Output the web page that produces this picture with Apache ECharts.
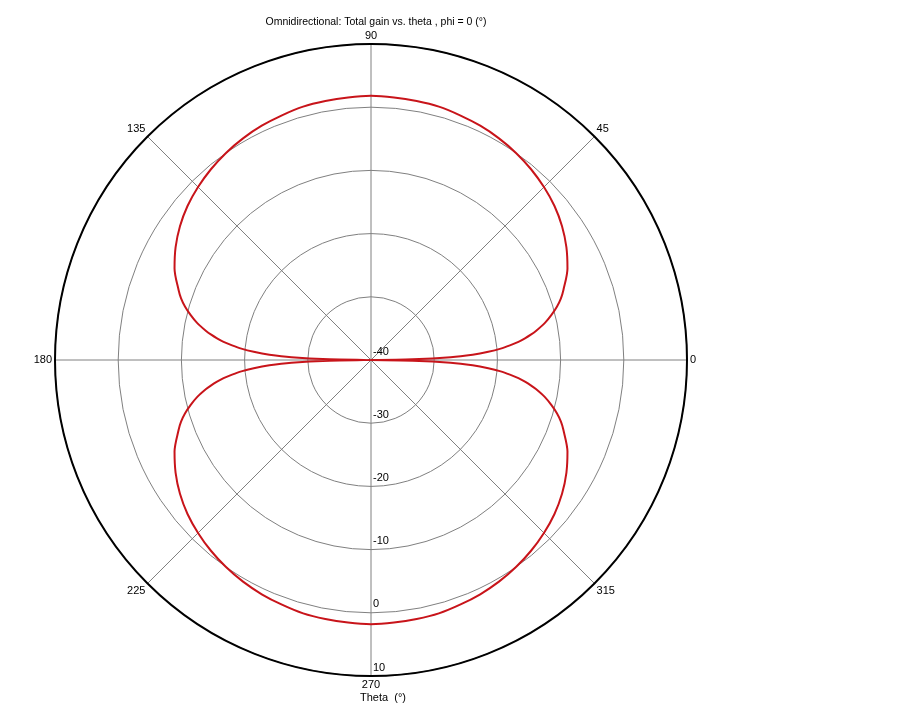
<!DOCTYPE html>
<html>
<head>
<meta charset="utf-8">
<script src="https://cdn.jsdelivr.net/npm/echarts@6/dist/echarts.min.js"></script>
<style>
html,body{margin:0;padding:0;background:#fff;}
#chart{width:910px;height:709px;}
</style>
</head>
<body>
<div id="chart"></div>
<script>
// Theta (degrees) and total gain (dB)
var thetaDeg = [
  0,1,2,3,4,5,6,7,8,9,10,12,14,16,18,20,25,30,35,40,45,50,55,60,65,70,75,80,85,
  90,95,100,105,110,115,120,125,130,135,140,145,150,155,160,162,164,166,168,170,171,172,173,174,175,176,177,178,179,
  180,181,182,183,184,185,186,187,188,189,190,192,194,196,198,200,205,210,215,220,225,230,235,240,245,250,255,260,265,
  270,275,280,285,290,295,300,305,310,315,320,325,330,335,340,342,344,346,348,350,351,352,353,354,355,356,357,358,359,360
];
var gainDb = [
  -40,-33.4,-27.4,-23.9,-21.4,-19.4,-17.9,-16.5,-15.4,-14.4,-13.5,-11.9,-10.6,-9.4,-8.4,-7.6,-5.7,-4.3,-3.1,-2.1,-1.3,-0.6,0.0,0.5,0.9,1.2,1.5,1.6,1.7,
  1.8,1.7,1.6,1.5,1.2,0.9,0.5,0.0,-0.6,-1.3,-2.1,-3.1,-4.3,-5.7,-7.6,-8.4,-9.4,-10.6,-11.9,-13.5,-14.4,-15.4,-16.5,-17.9,-19.4,-21.4,-23.9,-27.4,-33.4,
  -40,-33.4,-27.4,-23.9,-21.4,-19.4,-17.9,-16.5,-15.4,-14.4,-13.5,-11.9,-10.6,-9.4,-8.4,-7.6,-5.7,-4.3,-3.1,-2.1,-1.3,-0.6,0.0,0.5,0.9,1.2,1.5,1.6,1.7,
  1.8,1.7,1.6,1.5,1.2,0.9,0.5,0.0,-0.6,-1.3,-2.1,-3.1,-4.3,-5.7,-7.6,-8.4,-9.4,-10.6,-11.9,-13.5,-14.4,-15.4,-16.5,-17.9,-19.4,-21.4,-23.9,-27.4,-33.4,-40
];
var radiusTicks = [-40, -30, -20, -10, 0, 10];
var angleTicks = [0, 45, 90, 135, 180, 225, 270, 315];
var titleText = 'Omnidirectional: Total gain vs. theta , phi = 0 (°)';
var axisName = 'Theta  (°)';

var ANG0 = 270; // radius labels drawn along the 270° spoke
var data = thetaDeg.map(function (t, i) {
  var a = t < ANG0 ? t + 360 : t;
  return [gainDb[i], a];
});

var FONT = '"Liberation Sans", Arial, sans-serif';
var chart = echarts.init(document.getElementById('chart'), null, {renderer: 'canvas'});
chart.setOption({
  animation: false,
  backgroundColor: '#ffffff',
  title: [
    {text: titleText, left: 371, top: 12, textAlign: 'center',
     textStyle: {fontFamily: FONT, fontSize: 10.5, fontWeight: 'normal', color: '#000'}},
    {text: axisName, left: 378, top: 687, textAlign: 'center',
     textStyle: {fontFamily: FONT, fontSize: 11, fontWeight: 'normal', color: '#000'}}
  ],
  polar: {center: [371, 360], radius: [0, 316]},
  angleAxis: {
    type: 'value', min: ANG0, max: ANG0 + 360, interval: 45,
    startAngle: ANG0, clockwise: false,
    axisLine: {show: true, lineStyle: {color: '#000', width: 2}},
    axisTick: {show: false},
    axisLabel: {
      margin: 3, color: '#000', fontFamily: FONT, fontSize: 11,
      formatter: function (v) {
        var d = ((v % 360) + 360) % 360;
        return angleTicks.indexOf(d) >= 0 ? String(d) : '';
      }
    },
    splitLine: {show: true, lineStyle: {color: '#808080', width: 1}}
  },
  radiusAxis: {
    type: 'value', min: radiusTicks[0], max: radiusTicks[radiusTicks.length - 1], interval: 10,
    axisLine: {show: false},
    axisTick: {show: false},
    axisLabel: {margin: 2, color: '#000', fontFamily: FONT, fontSize: 11, verticalAlign: 'bottom',
      padding: [0, 0, 3, 0],
      formatter: function (v) { return radiusTicks.indexOf(v) >= 0 ? String(v) : ''; }},
    splitLine: {show: true, lineStyle: {color: '#808080', width: 1}}
  },
  series: [{
    type: 'line', coordinateSystem: 'polar', data: data,
    showSymbol: false, symbol: 'none', smooth: 0.3, clip: false,
    lineStyle: {color: '#c8141a', width: 2},
    z: 3
  }]
});
</script>
</body>
</html>
